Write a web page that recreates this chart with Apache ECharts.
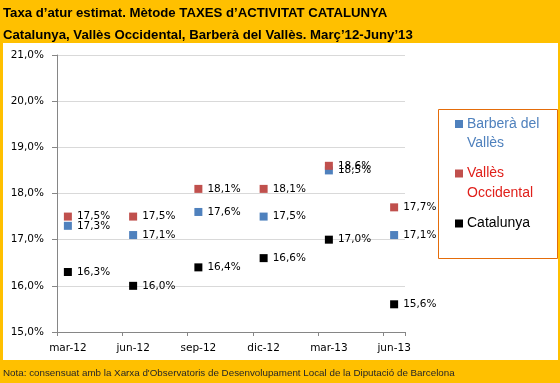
<!DOCTYPE html>
<html><head><meta charset="utf-8">
<script src="https://cdn.jsdelivr.net/npm/echarts@6/dist/echarts.min.js"></script>
<style>html,body{margin:0;padding:0;background:#FFC000}#c{width:560px;height:383px}</style>
</head><body><div id="c"></div>
<script>
// axis months (one category per month, labels shown every 3rd)
var months = ['mar-12','abr-12','may-12','jun-12','jul-12','ago-12','sep-12','oct-12','nov-12','dic-12','ene-13','feb-13','mar-13','abr-13','may-13','jun-13'];
// observation dates
var categories = ['mar-12','jun-12','sep-12','dic-12','mar-13','jun-13'];
var seriesNames = ['Barberà del Vallès', 'Vallès Occidental', 'Catalunya'];
var legendLabels = ['Barberà del\nVallès', 'Vallès\nOccidental', 'Catalunya'];
var barbera = [17.3, 17.1, 17.6, 17.5, 18.5, 17.1];
var valles = [17.5, 17.5, 18.1, 18.1, 18.6, 17.7];
var catalunya = [16.3, 16.0, 16.4, 16.6, 17.0, 15.6];
var yTicks = [15, 16, 17, 18, 19, 20, 21];
var colors = ['#4F81BD', '#C0504D', '#000000'];
var textColors = ['#4F81BD', '#E0201B', '#000000'];

var values = [barbera, valles, catalunya];
var fmt = function (v) { return v.toFixed(1).replace('.', ',') + '%'; };
var FONT = 'DejaVu Sans';

var series = seriesNames.map(function (n, k) {
  return {
    name: n, type: 'scatter', symbol: 'rect', symbolSize: 8,
    itemStyle: { color: colors[k], opacity: 1 },
    data: categories.map(function (c, i) { return [c, values[k][i]]; }),
    label: { show: true, position: 'right', distance: 5, color: '#000',
      fontFamily: FONT, fontSize: 10.5,
      formatter: function (p) { return fmt(p.value[1]); } }
  };
});

var graphic = [
  { type: 'rect', z: -10, shape: { x: 3, y: 43, width: 555, height: 317 }, style: { fill: '#fff' } },
  { type: 'rect', z: 5, shape: { x: 438.5, y: 109.5, width: 119, height: 149 }, style: { fill: 'none', stroke: '#E46C0A', lineWidth: 1 } }
];
var legendY = [124, 173.5, 223.5];
seriesNames.forEach(function (n, k) {
  graphic.push({ type: 'rect', z: 5, shape: { x: 455, y: legendY[k] - 4, width: 8, height: 8 }, style: { fill: colors[k] } });
  graphic.push({ type: 'text', z: 5, x: 467, y: legendY[k] - 10, style: { text: legendLabels[k], fill: textColors[k],
    font: '14px "Liberation Sans"', lineHeight: 19.5, verticalAlign: 'top' } });
});

var chart = echarts.init(document.getElementById('c'), null, { renderer: 'canvas' });
chart.setOption({
  backgroundColor: '#FFC000',
  animation: false,
  title: [
    { text: 'Taxa d’atur estimat. Mètode TAXES d’ACTIVITAT CATALUNYA\nCatalunya, Vallès Occidental, Barberà del Vallès. Març’12-Juny’13',
      left: 3, top: 2, padding: 0,
      textStyle: { fontFamily: 'Liberation Sans', fontWeight: 'bold', fontSize: 13.2, color: '#000', lineHeight: 22 } },
    { text: "Nota: consensuat amb la Xarxa d'Observatoris de Desenvolupament Local de la Diputació de Barcelona",
      left: 3, top: 368, padding: 0,
      textStyle: { fontFamily: 'Liberation Sans', fontWeight: 'normal', fontSize: 9.8, color: '#262626' } }
  ],
  graphic: graphic,
  grid: { left: 57, right: 155, top: 55, bottom: 51, containLabel: false },
  xAxis: {
    type: 'category', data: months, boundaryGap: true,
    axisLine: { lineStyle: { color: '#868686' } },
    axisTick: { show: true, interval: 2, alignWithLabel: false, length: 4, lineStyle: { color: '#868686' } },
    axisLabel: { interval: 2, margin: 11, color: '#000', fontFamily: FONT, fontSize: 10.5 },
    splitLine: { show: false }
  },
  yAxis: {
    type: 'value', min: yTicks[0], max: yTicks[yTicks.length - 1], interval: 1,
    axisLine: { show: true, lineStyle: { color: '#868686' } },
    axisTick: { show: true, length: 5, lineStyle: { color: '#868686' } },
    axisLabel: { margin: 13, color: '#000', fontFamily: FONT, fontSize: 10.5, formatter: fmt },
    splitLine: { show: true, lineStyle: { color: '#D9D9D9' } }
  },
  series: series
});
</script></body></html>
